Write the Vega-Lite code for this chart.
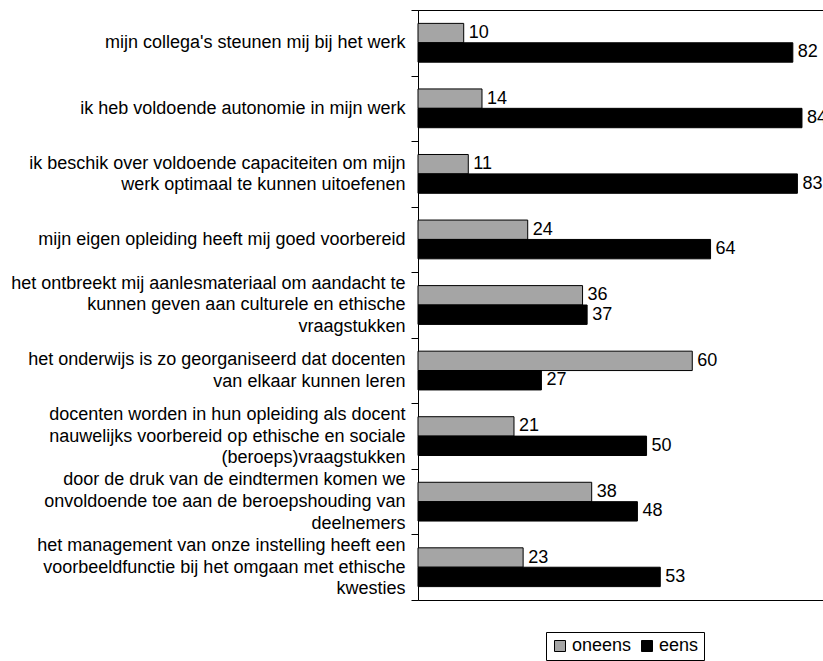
{
  "$schema": "https://vega.github.io/schema/vega-lite/v6.json",
  "width": 405,
  "height": 590,
  "autosize": "none",
  "padding": {"left": 418, "top": 10, "right": 0, "bottom": 61},
  "background": "white",
  "config": {
    "font": "Liberation Sans",
    "view": {"stroke": "black", "strokeWidth": 1}
  },
  "data": {
    "values": [
      {"vraag": "mijn collega's steunen mij bij het werk", "antwoord": "oneens", "pct": 10},
      {"vraag": "mijn collega's steunen mij bij het werk", "antwoord": "eens", "pct": 82},
      {"vraag": "ik heb voldoende autonomie in mijn werk", "antwoord": "oneens", "pct": 14},
      {"vraag": "ik heb voldoende autonomie in mijn werk", "antwoord": "eens", "pct": 84},
      {"vraag": "ik beschik over voldoende capaciteiten om mijn|werk optimaal te kunnen uitoefenen", "antwoord": "oneens", "pct": 11},
      {"vraag": "ik beschik over voldoende capaciteiten om mijn|werk optimaal te kunnen uitoefenen", "antwoord": "eens", "pct": 83},
      {"vraag": "mijn eigen opleiding heeft mij goed voorbereid", "antwoord": "oneens", "pct": 24},
      {"vraag": "mijn eigen opleiding heeft mij goed voorbereid", "antwoord": "eens", "pct": 64},
      {"vraag": "het ontbreekt mij aanlesmateriaal om aandacht te|kunnen geven aan culturele en ethische|vraagstukken", "antwoord": "oneens", "pct": 36},
      {"vraag": "het ontbreekt mij aanlesmateriaal om aandacht te|kunnen geven aan culturele en ethische|vraagstukken", "antwoord": "eens", "pct": 37},
      {"vraag": "het onderwijs is zo georganiseerd dat docenten|van elkaar kunnen leren", "antwoord": "oneens", "pct": 60},
      {"vraag": "het onderwijs is zo georganiseerd dat docenten|van elkaar kunnen leren", "antwoord": "eens", "pct": 27},
      {"vraag": "docenten worden in hun opleiding als docent|nauwelijks voorbereid op ethische en sociale|(beroeps)vraagstukken", "antwoord": "oneens", "pct": 21},
      {"vraag": "docenten worden in hun opleiding als docent|nauwelijks voorbereid op ethische en sociale|(beroeps)vraagstukken", "antwoord": "eens", "pct": 50},
      {"vraag": "door de druk van de eindtermen komen we|onvoldoende toe aan de beroepshouding van|deelnemers", "antwoord": "oneens", "pct": 38},
      {"vraag": "door de druk van de eindtermen komen we|onvoldoende toe aan de beroepshouding van|deelnemers", "antwoord": "eens", "pct": 48},
      {"vraag": "het management van onze instelling heeft een|voorbeeldfunctie bij het omgaan met ethische|kwesties", "antwoord": "oneens", "pct": 23},
      {"vraag": "het management van onze instelling heeft een|voorbeeldfunctie bij het omgaan met ethische|kwesties", "antwoord": "eens", "pct": 53}
    ]
  },
  "encoding": {
    "y": {
      "field": "vraag",
      "type": "nominal",
      "sort": null,
      "scale": {"paddingInner": 0, "paddingOuter": 0},
      "axis": {
        "title": null,
        "labelExpr": "split(datum.label, '|')",
        "labelFontSize": 18,
        "labelColor": "black",
        "labelLineHeight": 21.7,
        "labelLimit": 0,
        "labelPadding": 6,
        "labelAlign": "right",
        "labelOffset": {
          "condition": [
            {"test": "length(split(datum.label, '|')) == 3", "value": -21.7},
            {"test": "length(split(datum.label, '|')) == 2", "value": -10.85}
          ],
          "value": 0
        },
        "tickBand": "extent",
        "tickSize": 7,
        "tickColor": "black",
        "domainColor": "black"
      }
    },
    "yOffset": {
      "field": "antwoord",
      "type": "nominal",
      "sort": ["oneens", "eens"],
      "scale": {"paddingInner": 0, "paddingOuter": 0.69}
    },
    "x": {
      "field": "pct",
      "type": "quantitative",
      "scale": {"domain": [0, 88.6], "nice": false},
      "axis": null
    }
  },
  "layer": [
    {
      "mark": {"type": "bar", "stroke": "black", "strokeWidth": 1},
      "encoding": {
        "color": {
          "field": "antwoord",
          "type": "nominal",
          "scale": {"domain": ["oneens", "eens"], "range": ["#a5a5a5", "#000000"]},
          "legend": {
            "title": null,
            "orient": "none",
            "legendX": 128,
            "legendY": 622,
            "direction": "horizontal",
            "strokeColor": "black",
            "padding": 5,
            "symbolType": "square",
            "symbolSize": 121,
            "symbolStrokeColor": "black",
            "symbolStrokeWidth": 1,
            "labelFontSize": 18,
            "labelColor": "black",
            "columnPadding": 6,
            "labelOffset": 3
          }
        }
      }
    },
    {
      "mark": {"type": "text", "align": "left", "baseline": "middle", "dx": 5, "fontSize": 18, "color": "black"},
      "encoding": {"text": {"field": "pct", "type": "quantitative"}}
    }
  ]
}
